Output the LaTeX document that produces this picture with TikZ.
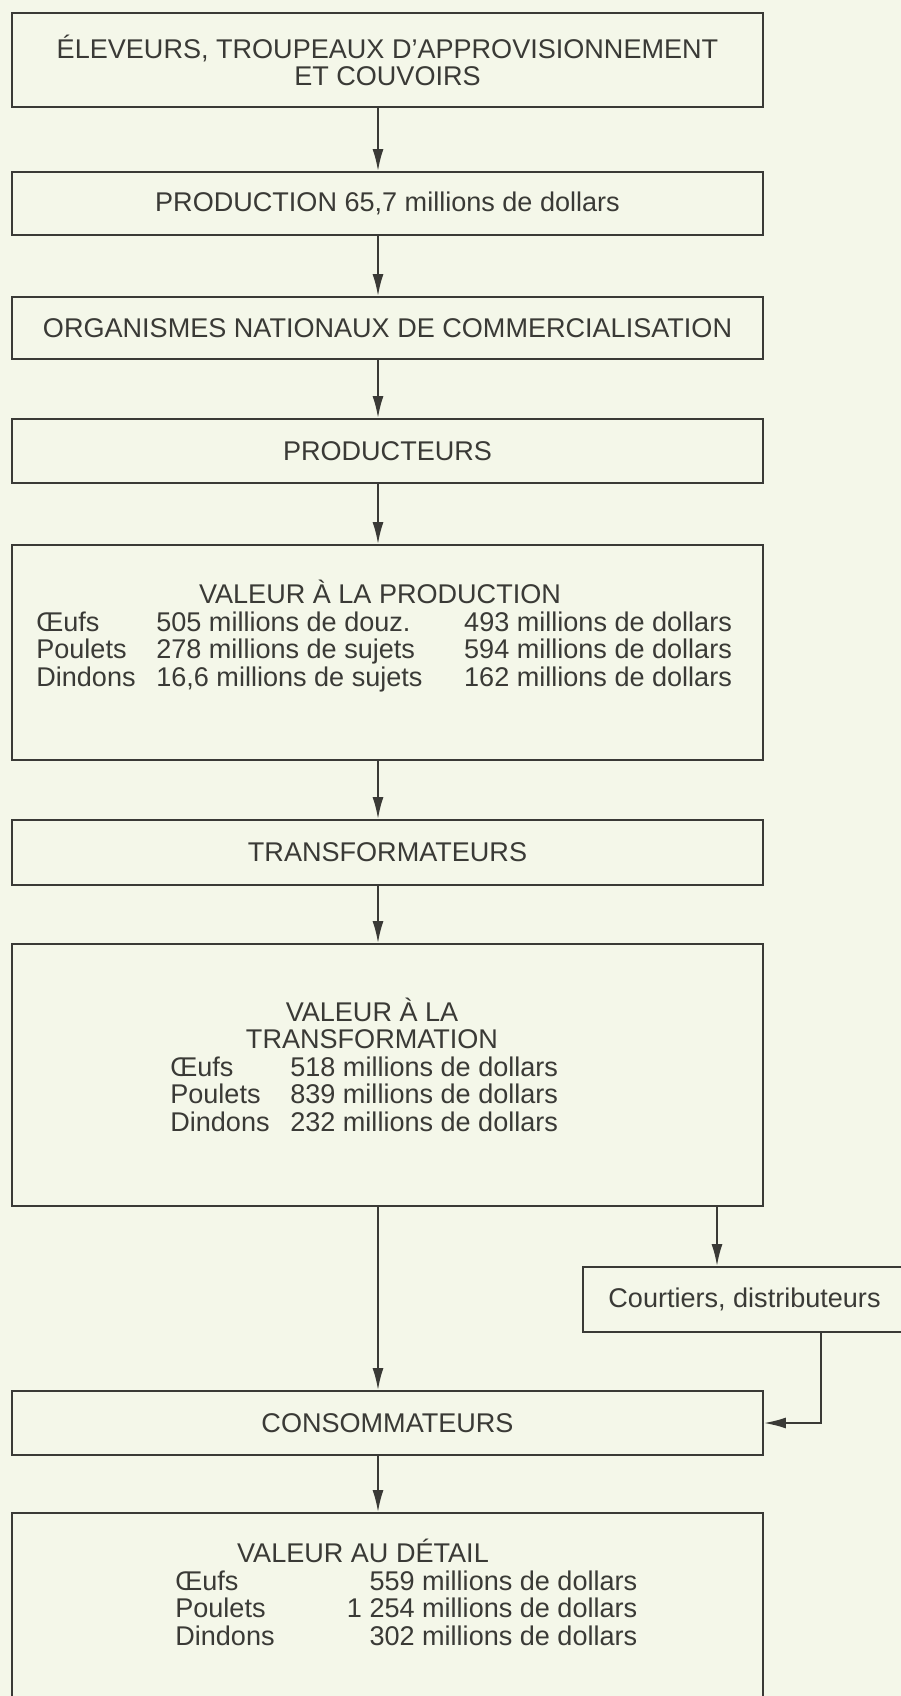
\documentclass[tikz,border=0pt]{standalone}
\usepackage{fontspec}
\setmainfont{Liberation Sans}
\usepackage{array}
\usepackage{xcolor}
\usepackage{tikz}
\usetikzlibrary{arrows.meta,positioning}
\definecolor{paper}{RGB}{244,247,233}
\definecolor{ink}{RGB}{58,58,54}

\begin{document}
\begin{tikzpicture}[x=0.02cm,y=-0.02cm,
	box/.style={draw=ink,line width=1.1pt,minimum width=15.02cm,inner sep=0pt,align=center,text=ink,font=\fontsize{15.4pt}{15.4pt}\selectfont},
	txt/.style={inner sep=0pt,text=ink,font=\fontsize{15.4pt}{15.4pt}\selectfont},
	flow/.style={draw=ink,line width=1.1pt,-{Latex[length=0.44cm,width=0.22cm]}}]
		\useasboundingbox (0,0) rectangle (901,1696);
		\fill[paper] (0,0) rectangle (901,1696);
		\clip (0,0) rectangle (901,1696);
		\node[box,minimum height=1.88cm] (eleveurs) at (387.5,60) {ÉLEVEURS, TROUPEAUX D’APPROVISIONNEMENT\\ET COUVOIRS};
		\node[box,minimum height=1.26cm] (production) at (387.5,203.5) {PRODUCTION 65,7 millions de dollars};
		\node[box,minimum height=1.24cm] (organismes) at (387.5,328) {ORGANISMES NATIONAUX DE COMMERCIALISATION};
		\node[box,minimum height=1.28cm] (producteurs) at (387.5,451) {PRODUCTEURS};
		\node[box,minimum height=4.30cm] (valprod) at (387.5,652.5) {};
		\node[box,minimum height=1.30cm] (transformateurs) at (387.5,852.5) {TRANSFORMATEURS};
		\node[box,minimum height=5.24cm] (valtransfo) at (387.5,1075) {};
		\node[box,minimum width=6.46cm,minimum height=1.30cm] (courtiers) at (744.5,1299.5) {Courtiers, distributeurs};
		\node[box,minimum height=1.28cm] (consommateurs) at (387.5,1423) {CONSOMMATEURS};
		\node[box,minimum height=4.34cm] (valdetail) at (387.5,1621.5) {};
		\node[txt,anchor=base] (prodtitre) at (380,603) {VALEUR À LA PRODUCTION};
		\node[txt,anchor=base west] (prodtab) at (36,631) {\begin{tabular}[t]{@{}p{2.4cm}@{}p{6.16cm}@{}l@{}}
			Œufs & 505 millions de douz. & 493 millions de dollars\\
			Poulets & 278 millions de sujets & 594 millions de dollars\\
			Dindons & 16,6 millions de sujets & 162 millions de dollars
		\end{tabular}};
		\node[txt,anchor=base] (transtitre) at (372,1021) {VALEUR À LA};
		\node[txt,anchor=base] (transtitreb) at (372,1048) {TRANSFORMATION};
		\node[txt,anchor=base west] (transtab) at (170,1076) {\begin{tabular}[t]{@{}p{2.4cm}@{}l@{}}
			Œufs & 518 millions de dollars\\
			Poulets & 839 millions de dollars\\
			Dindons & 232 millions de dollars
		\end{tabular}};
		\node[txt,anchor=base] (detailtitre) at (363,1562) {VALEUR AU DÉTAIL};
		\node[txt,anchor=base west] (detailtab) at (175,1590) {\begin{tabular}[t]{@{}p{2.4cm}@{}>{\raggedleft\arraybackslash}p{6.84cm}@{}}
			Œufs & 559 millions de dollars\\
			Poulets & 1 254 millions de dollars\\
			Dindons & 302 millions de dollars
		\end{tabular}};
		\coordinate (axe) at (378,0);
		\coordinate (vers) at (717,0);
		\coordinate (retour) at (821,0);
		\draw[flow] (eleveurs.south -| axe) -- (production.north -| axe);
		\draw[flow] (production.south -| axe) -- (organismes.north -| axe);
		\draw[flow] (organismes.south -| axe) -- (producteurs.north -| axe);
		\draw[flow] (producteurs.south -| axe) -- (valprod.north -| axe);
		\draw[flow] (valprod.south -| axe) -- (transformateurs.north -| axe);
		\draw[flow] (transformateurs.south -| axe) -- (valtransfo.north -| axe);
		\draw[flow] (valtransfo.south -| axe) -- (consommateurs.north -| axe);
		\draw[flow] (valtransfo.south -| vers) -- (courtiers.north -| vers);
		\draw[flow] (courtiers.south -| retour) |- (consommateurs.east);
		\draw[flow] (consommateurs.south -| axe) -- (valdetail.north -| axe);
	\end{tikzpicture}
\end{document}
